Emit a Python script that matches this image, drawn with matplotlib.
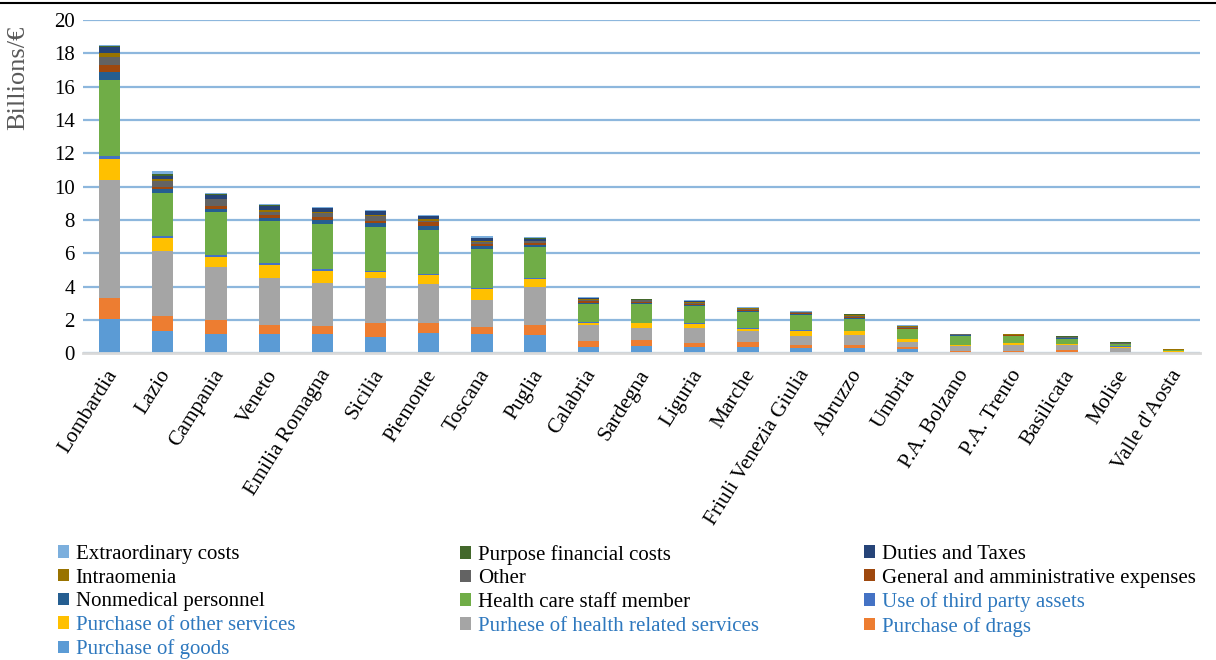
"""
Regional health expenditure by cost item, stacked bars.
"""

import matplotlib

matplotlib.use("Agg")

import matplotlib.pyplot as plt
import matplotlib.transforms as mtransforms
import numpy as np
from matplotlib.lines import Line2D
from matplotlib.patches import Patch

plt.rcParams["font.family"] = ["Liberation Serif", "DejaVu Serif"]

# -----------------------------------------
# Data (billions of euro)
# -----------------------------------------

regions = [
    "Lombardia", "Lazio", "Campania", "Veneto", "Emilia Romagna",
    "Sicilia", "Piemonte", "Toscana", "Puglia", "Calabria",
    "Sardegna", "Liguria", "Marche", "Friuli Venezia Giulia", "Abruzzo",
    "Umbria", "P.A. Bolzano", "P.A. Trento", "Basilicata", "Molise",
    "Valle d'Aosta",
]

purchase_goods = [2.06, 1.34, 1.16, 1.16, 1.16, 0.98, 1.20, 1.14, 1.10, 0.40, 0.46,
                  0.38, 0.40, 0.34, 0.30, 0.25, 0.09, 0.10, 0.10, 0.05, 0.03]
purchase_drags = [1.28, 0.92, 0.84, 0.56, 0.50, 0.82, 0.64, 0.42, 0.62, 0.31, 0.31,
                  0.23, 0.25, 0.16, 0.20, 0.10, 0.03, 0.06, 0.11, 0.05, 0.01]
health_services = [7.07, 3.89, 3.15, 2.81, 2.57, 2.70, 2.32, 1.62, 2.26, 0.98, 0.72,
                   0.88, 0.67, 0.52, 0.60, 0.30, 0.29, 0.35, 0.26, 0.23, 0.03]
other_services = [1.24, 0.78, 0.64, 0.74, 0.72, 0.40, 0.54, 0.70, 0.50, 0.15, 0.30,
                  0.24, 0.15, 0.30, 0.22, 0.19, 0.07, 0.10, 0.06, 0.07, 0.04]
third_party = [0.18, 0.10, 0.08, 0.12, 0.08, 0.04, 0.08, 0.06, 0.06, 0.04, 0.05,
               0.06, 0.06, 0.06, 0.04, 0.02, 0.02, 0.02, 0.02, 0.02, 0.01]
health_staff = [4.59, 2.58, 2.58, 2.54, 2.74, 2.61, 2.59, 2.33, 1.83, 1.08, 1.12,
                1.05, 0.92, 0.89, 0.68, 0.58, 0.53, 0.39, 0.33, 0.12, 0.05]
nonmedical = [0.44, 0.22, 0.22, 0.20, 0.22, 0.24, 0.24, 0.14, 0.12, 0.07, 0.07,
              0.06, 0.06, 0.06, 0.06, 0.04, 0.04, 0.04, 0.04, 0.02, 0.02]
general_admin = [0.46, 0.16, 0.14, 0.14, 0.18, 0.16, 0.26, 0.14, 0.10, 0.08, 0.04,
                 0.04, 0.06, 0.06, 0.06, 0.04, 0.02, 0.02, 0.02, 0.02, 0.01]
other = [0.48, 0.36, 0.42, 0.22, 0.22, 0.30, 0.08, 0.14, 0.12, 0.10, 0.10,
         0.09, 0.09, 0.06, 0.08, 0.08, 0.04, 0.04, 0.04, 0.04, 0.02]
intraomenia = [0.24, 0.10, 0.04, 0.08, 0.10, 0.06, 0.08, 0.06, 0.04, 0.04, 0.02,
               0.04, 0.04, 0.02, 0.04, 0.02, 0.01, 0.01, 0.01, 0.01, 0.01]
duties_taxes = [0.36, 0.20, 0.24, 0.26, 0.20, 0.20, 0.20, 0.14, 0.10, 0.06, 0.02,
                0.06, 0.02, 0.02, 0.03, 0.02, 0.02, 0.02, 0.01, 0.01, 0.01]
purpose_financial = [0.02, 0.10, 0.02, 0.04, 0.04, 0.04, 0.02, 0.04, 0.04, 0.02, 0.02,
                     0.02, 0.02, 0.01, 0.02, 0.01, 0.01, 0.01, 0.01, 0.01, 0.01]
extraordinary = [0.08, 0.16, 0.06, 0.08, 0.04, 0.04, 0.04, 0.10, 0.08, 0.04, 0.02,
                 0.04, 0.02, 0.01, 0.02, 0.03, 0.01, 0.01, 0.01, 0.01, 0.02]

# stacking order, bottom to top
series = [
    ("Purchase of goods", purchase_goods, "#5B9BD5"),
    ("Purchase of drags", purchase_drags, "#ED7D31"),
    ("Purhese of health related services", health_services, "#A5A5A5"),
    ("Purchase of other services", other_services, "#FFC000"),
    ("Use of third party assets", third_party, "#4472C4"),
    ("Health care staff member", health_staff, "#70AD47"),
    ("Nonmedical personnel", nonmedical, "#255E91"),
    ("General and amministrative expenses", general_admin, "#9E480E"),
    ("Other", other, "#636363"),
    ("Intraomenia", intraomenia, "#997300"),
    ("Duties and Taxes", duties_taxes, "#264478"),
    ("Purpose financial costs", purpose_financial, "#43682B"),
    ("Extraordinary costs", extraordinary, "#7CAFDD"),
]

blue_labels = {
    "Use of third party assets",
    "Purchase of other services",
    "Purhese of health related services",
    "Purchase of drags",
    "Purchase of goods",
}

# -----------------------------------------
# Figure
# -----------------------------------------

W, H = 1216, 660

fig = plt.figure(figsize=(W / 100, H / 100), dpi=100)

ax = fig.add_axes([83 / W, 1 - 353.3 / H, 1117 / W, 333.3 / H])

x = np.arange(len(regions))
bottom = np.zeros(len(regions))

for name, values, color in series:
    ax.bar(
        x,
        values,
        width=0.4,
        bottom=bottom,
        color=color,
        edgecolor="none",
        linewidth=0,
        zorder=3,
    )
    bottom += np.array(values)

# -----------------------------------------
# Axes styling
# -----------------------------------------

ax.set_xlim(-0.5, len(regions) - 0.5)
ax.set_ylim(0, 20)
ax.set_yticks(np.arange(0, 21, 2))
ax.yaxis.grid(True, color="#8DB7DD", linewidth=1.6, zorder=0)
ax.set_axisbelow(True)

for side in ["top", "right", "left"]:
    ax.spines[side].set_visible(False)

ax.spines["bottom"].set_color("#D9D9D9")
ax.spines["bottom"].set_linewidth(2)
ax.spines["bottom"].set_zorder(4)

ax.tick_params(axis="both", length=0, labelsize=15)
ax.tick_params(axis="y", pad=6)
ax.tick_params(axis="x", pad=13)

ax.set_xticks(x)
ax.set_xticklabels(
    regions,
    rotation=58,
    ha="right",
    va="center",
    rotation_mode="anchor",
    fontsize=15.5,
)

shift = mtransforms.ScaledTranslation(4 / 100, 0, fig.dpi_scale_trans)
for label in ax.get_xticklabels():
    label.set_transform(label.get_transform() + shift)

fig.text(
    18 / W,
    1 - 78 / H,
    "Billions/€",
    rotation=90,
    ha="center",
    va="center",
    fontsize=19,
    color="#595959",
)

# black rule across the top of the page
fig.add_artist(
    Line2D([0, 1], [1 - 3 / H, 1 - 3 / H], color="black", linewidth=1.5)
)

# -----------------------------------------
# Legend (three columns, filled row by row)
# -----------------------------------------

legend_order = [
    ["Extraordinary costs", "Intraomenia", "Nonmedical personnel",
     "Purchase of other services", "Purchase of goods"],
    ["Purpose financial costs", "Other", "Health care staff member",
     "Purhese of health related services"],
    ["Duties and Taxes", "General and amministrative expenses",
     "Use of third party assets", "Purchase of drags"],
]

colors = {name: color for name, _, color in series}
column_x = [58, 460, 864]

for col, names in enumerate(legend_order):
    handles = [Patch(facecolor=colors[n], edgecolor="none") for n in names]
    leg = fig.legend(
        handles,
        names,
        loc="upper left",
        bbox_to_anchor=(column_x[col] / W, 1 - 545 / H),
        frameon=False,
        fontsize=15,
        handlelength=0.55,
        handleheight=0.55,
        handletextpad=0.3,
        labelspacing=0.22,
        borderpad=0,
        borderaxespad=0,
    )
    for text in leg.get_texts():
        if text.get_text() in blue_labels:
            text.set_color("#2E78BE")

fig.savefig("out.png", dpi=100)
